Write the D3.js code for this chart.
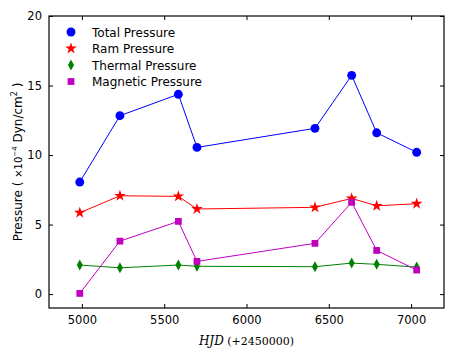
<!DOCTYPE html>
<meta charset="utf-8">
<style>
    body { margin: 0; background: #fff; }
    .tick text { font-family: "DejaVu Sans", sans-serif; font-size: 11.5px; fill: #000; }
    .legendText { font-family: "DejaVu Sans", sans-serif; font-size: 12px; fill: #000; }
    .axisLabel { font-family: "DejaVu Sans", sans-serif; font-size: 12px; fill: #000; }
</style>
<body>
<script src="https://d3js.org/d3.v7.min.js"></script>
<script>
    // HJD - 2450000
    var hjd = [4987, 5231, 5586, 5699, 6416, 6639, 6791, 7034];
    var totalPressure = [8.06, 12.83, 14.37, 10.55, 11.92, 15.73, 11.6, 10.2];
    var ramPressure = [5.85, 7.07, 7.03, 6.12, 6.24, 6.88, 6.35, 6.5];
    var thermalPressure = [2.09, 1.89, 2.09, 2.0, 1.97, 2.23, 2.14, 1.94];
    var magneticPressure = [0.05, 3.81, 5.23, 2.35, 3.65, 6.6, 3.14, 1.73];
    var xTicks = [5000, 5500, 6000, 6500, 7000];
    var yTicks = [0, 5, 10, 15, 20];

    var series = [
        {name: "Total Pressure", values: totalPressure, color: "#0000ff", marker: "circle"},
        {name: "Ram Pressure", values: ramPressure, color: "#ff0000", marker: "star"},
        {name: "Thermal Pressure", values: thermalPressure, color: "#008000", marker: "diamond"},
        {name: "Magnetic Pressure", values: magneticPressure, color: "#bf00bf", marker: "square"}
    ];

    var W = 469, H = 352;
    var margin = {top: 16, right: 25, bottom: 44, left: 49};
    var width = W - margin.left - margin.right,
        height = H - margin.top - margin.bottom;

    var x = d3.scaleLinear().domain([4800, 7200]).range([0, width]);
    var y = d3.scaleLinear().domain([-1, 20]).range([height, 0]);

    var svg = d3.select("body").append("svg").attr("width", W).attr("height", H)
        .append("g").attr("transform", "translate(" + margin.left + "," + margin.top + ")");

    // axes with inward ticks (matplotlib classic)
    svg.append("g").attr("transform", "translate(0," + height + ")")
        .call(d3.axisBottom(x).tickValues(xTicks).tickFormat(d3.format("d"))
            .tickSizeInner(-4).tickSizeOuter(0).tickPadding(8));
    svg.append("g")
        .call(d3.axisTop(x).tickValues(xTicks).tickSizeInner(-4).tickSizeOuter(0).tickFormat(""));
    svg.append("g")
        .call(d3.axisLeft(y).tickValues(yTicks).tickFormat(d3.format("d"))
            .tickSizeInner(-4).tickSizeOuter(0).tickPadding(7));
    svg.append("g").attr("transform", "translate(" + width + ",0)")
        .call(d3.axisRight(y).tickValues(yTicks).tickSizeInner(-4).tickSizeOuter(0).tickFormat(""));
    svg.selectAll(".domain").remove();
    svg.selectAll(".tick line").attr("stroke", "#000");

    svg.append("rect").attr("width", width).attr("height", height)
        .attr("fill", "none").attr("stroke", "#000").attr("stroke-width", 1.2);

    var symbols = {
        circle: d3.symbol().type(d3.symbolCircle).size(62),
        star: d3.symbol().type(d3.symbolStar).size(42),
        square: d3.symbol().type(d3.symbolSquare).size(46)
    };
    function drawMarker(g, kind, color) {
        if (kind === "diamond") {
            g.append("path").attr("d", "M0,-5.5L3,0L0,5.5L-3,0Z").attr("fill", color);
        } else {
            g.append("path").attr("d", symbols[kind]()).attr("fill", color);
        }
    }

    var line = d3.line().x(function(d) { return x(d[0]); }).y(function(d) { return y(d[1]); });

    series.forEach(function(s) {
        var pts = hjd.map(function(h, i) { return [h, s.values[i]]; });
        svg.append("path").datum(pts).attr("d", line)
            .attr("fill", "none").attr("stroke", s.color).attr("stroke-width", 1);
        pts.forEach(function(p) {
            var g = svg.append("g").attr("transform", "translate(" + x(p[0]) + "," + y(p[1]) + ")");
            drawMarker(g, s.marker, s.color);
        });
    });

    // legend
    var legend = svg.append("g").attr("transform", "translate(22,16)");
    series.forEach(function(s, i) {
        var row = legend.append("g").attr("transform", "translate(0," + (i * 16.5) + ")");
        drawMarker(row.append("g"), s.marker, s.color);
        row.append("text").attr("class", "legendText").attr("x", 21).attr("y", 4.5).text(s.name);
    });

    // x label
    var xl = svg.append("text").attr("class", "axisLabel")
        .attr("x", width / 2).attr("y", height + 37).attr("text-anchor", "middle");
    xl.append("tspan").attr("font-family", "DejaVu Serif, serif").attr("font-style", "italic").text("HJD");
    xl.append("tspan").attr("font-family", "DejaVu Serif, serif").attr("font-size", "11px").text(" (+2450000)");

    // y label
    var yl = svg.append("text").attr("class", "axisLabel")
        .attr("transform", "translate(-27," + (height / 2) + ") rotate(-90)")
        .attr("text-anchor", "middle");
    yl.append("tspan").text("Pressure ( ");
    yl.append("tspan").attr("font-size", "10px").text("×10");
    yl.append("tspan").attr("font-size", "7px").attr("dy", "-5").text("−4");
    yl.append("tspan").attr("dy", "5").text(" Dyn/cm");
    yl.append("tspan").attr("font-size", "8px").attr("dy", "-5").text("2");
    yl.append("tspan").attr("dy", "5").text(" )");
</script>
</body>
